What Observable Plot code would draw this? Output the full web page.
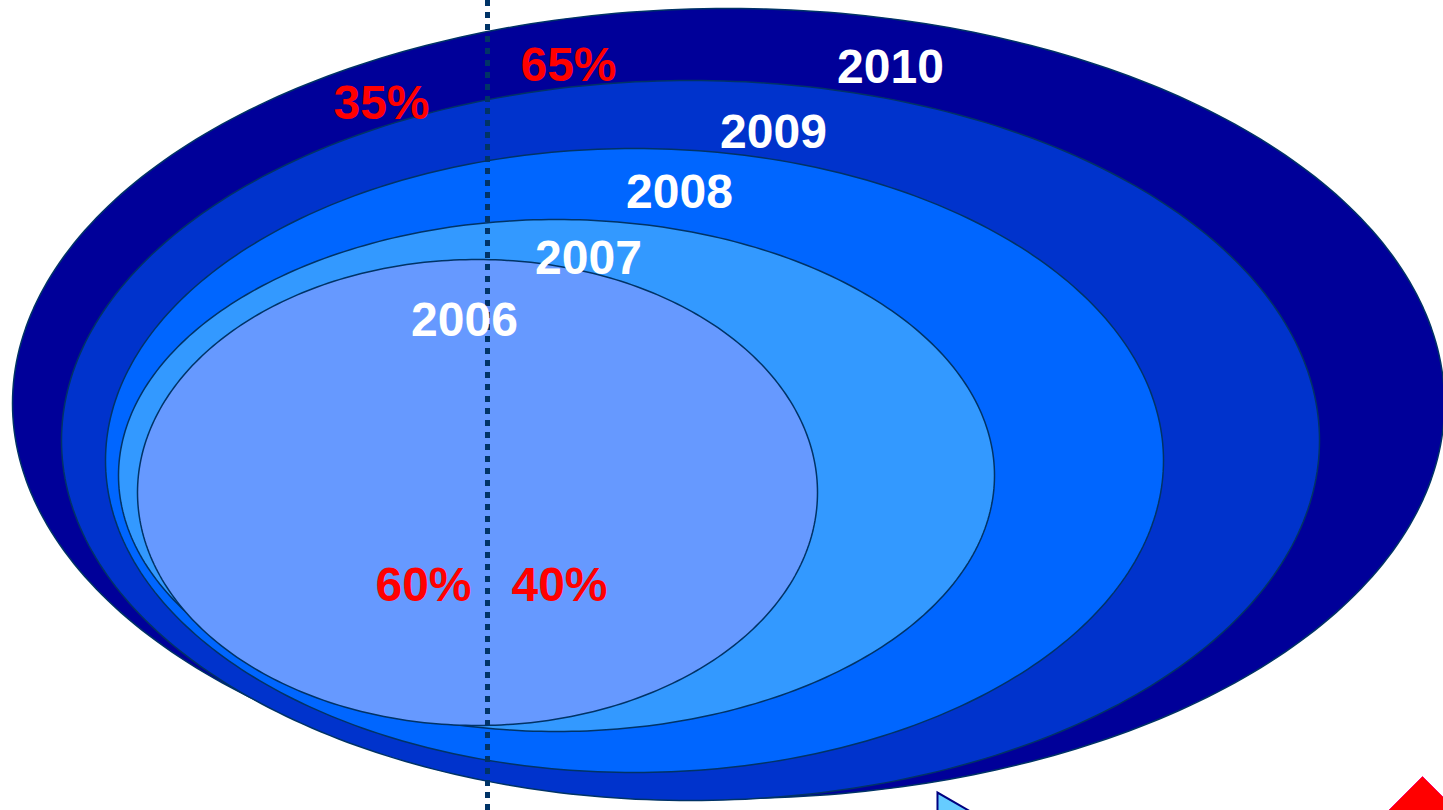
<!DOCTYPE html>
<html>
<head>
<meta charset="utf-8">
<script src="https://cdn.jsdelivr.net/npm/d3@7"></script>
<script src="https://cdn.jsdelivr.net/npm/@observablehq/plot@0.6"></script>
<style>
  html, body { margin: 0; padding: 0; background: #ffffff; overflow: hidden; }
  #chart svg { display: block; overflow: hidden; }
</style>
</head>
<body>
<div id="chart"></div>
<script>
// Years drawn as nested ellipses (largest first)
const years   = [2010, 2009, 2008, 2007, 2006];
const colors  = ["#000099", "#0033CC", "#0066FF", "#3399FF", "#6699FF"];
// Ellipse geometry (in the chart's own x/y units)
const centerX = [728, 690, 634, 556, 477];
const centerY = [403, 440, 460, 475, 492];
const radiusX = [716, 629, 529, 438, 340];
const radiusY = [395, 360, 312, 256, 233];
// Year label anchors
const labelX  = [890, 773, 679, 588, 464];
const labelY  = [82, 147, 207, 273, 335];
// Share labels around the divider
const shareText = ["35%", "65%", "60%", "40%"];
const shareX    = [381, 568, 423, 559];
const shareY    = [118, 80, 600, 600];
const dividerX  = [487];
// Partially visible markers at the bottom edge
const markerX      = [967, 1422];
const markerY      = [844, 836];
const markerSymbol = ["triangle", "diamond2"];

const ellipses = years.map((yr, i) => {
  const pts = [];
  for (let k = 0; k < 360; k++) {
    const a = (k / 360) * 2 * Math.PI;
    pts.push({year: yr, x: centerX[i] + radiusX[i] * Math.cos(a), y: centerY[i] + radiusY[i] * Math.sin(a)});
  }
  return pts;
});

const yearLabels = years.map((yr, i) => ({text: String(yr), x: labelX[i], y: labelY[i]}));
const shares = shareText.map((t, i) => ({text: t, x: shareX[i], y: shareY[i]}));
const markers = markerX.map((x, i) => ({x, y: markerY[i], symbol: markerSymbol[i]}));

const font = "'Liberation Sans', Arial, Helvetica, sans-serif";

const chart = Plot.plot({
  width: 1443,
  height: 810,
  margin: 0,
  x: {domain: [0, 1443], axis: null},
  y: {domain: [810, 0], axis: null},
  style: {background: "#ffffff", fontFamily: font},
  marks: [
    ...ellipses.map((pts, i) => Plot.line(pts, {
      x: "x", y: "y", curve: "linear-closed",
      fill: colors[i], stroke: "#003366", strokeWidth: 1.5
    })),
    Plot.ruleX(dividerX, {y1: 0, y2: 810, stroke: "#003366", strokeWidth: 5, strokeDasharray: "6,6"}),
    Plot.text(yearLabels, {
      x: "x", y: "y", text: "text", fill: "white", fontSize: 48, fontWeight: "bold",
      textAnchor: "middle", lineAnchor: "bottom", fontFamily: font
    }),
    Plot.text(shares, {
      x: "x", y: "y", text: "text", fill: "#FF0000", fontSize: 48, fontWeight: "bold",
      textAnchor: "middle", lineAnchor: "bottom", fontFamily: font
    }),
    Plot.dot(markers.filter(d => d.symbol === "triangle"), {
      x: "x", y: "y", symbol: "triangle", r: 38.6, rotate: 90,
      fill: "#66CCFF", stroke: "#000080", strokeWidth: 2
    }),
    Plot.dot(markers.filter(d => d.symbol === "diamond2"), {
      x: "x", y: "y", symbol: "diamond2", r: 54,
      fill: "#FF0000", stroke: "#FF0066", strokeWidth: 1
    })
  ]
});
document.getElementById("chart").appendChild(chart);
</script>
</body>
</html>
